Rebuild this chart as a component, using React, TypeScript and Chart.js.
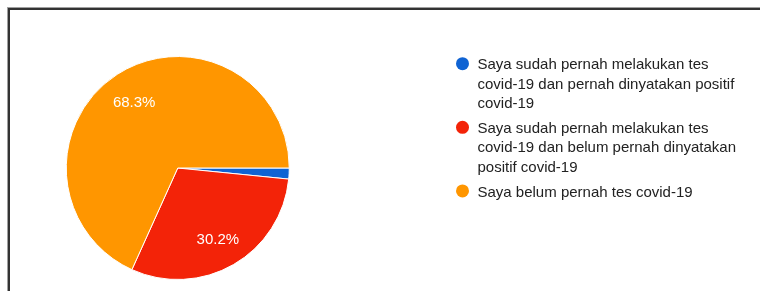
import React, { useEffect, useRef } from "react";
import { Chart, registerables } from "chart.js";

Chart.register(...registerables);

const categories = [
  "Saya sudah pernah melakukan tes covid-19 dan pernah dinyatakan positif covid-19",
  "Saya sudah pernah melakukan tes covid-19 dan belum pernah dinyatakan positif covid-19",
  "Saya belum pernah tes covid-19",
];
const counts = [1, 19, 43];
const sliceColors = ["#0f63d3", "#f32308", "#ff9600"];

const FONT = "15px 'Liberation Sans', Arial, sans-serif";

const framePlugin = {
  id: "frame",
  beforeDraw(chart: any) {
    const ctx = chart.ctx;
    ctx.save();
    ctx.fillStyle = "#a0a0a0";
    ctx.fillRect(7, 7, chart.width - 7, 1);
    ctx.fillRect(7, 7, 1, chart.height - 7);
    ctx.fillStyle = "#333333";
    ctx.fillRect(8, 8, chart.width - 8, 2);
    ctx.fillRect(8, 8, 2, chart.height - 8);
    ctx.restore();
  },
};

const sliceLabelPlugin = {
  id: "sliceLabels",
  afterDatasetsDraw(chart: any) {
    const ctx = chart.ctx;
    const meta = chart.getDatasetMeta(0);
    const data = chart.data.datasets[0].data as number[];
    const total = data.reduce((a, b) => a + b, 0);
    ctx.save();
    ctx.font = FONT;
    ctx.fillStyle = "#ffffff";
    ctx.textAlign = "center";
    ctx.textBaseline = "middle";
    meta.data.forEach((arc: any, i: number) => {
      const pct = (data[i] / total) * 100;
      if (pct < 5) return;
      const mid = (arc.startAngle + arc.endAngle) / 2;
      const r = arc.outerRadius * 0.72;
      const x = arc.x + Math.cos(mid) * r;
      const y = arc.y + Math.sin(mid) * r + 2;
      ctx.fillText(pct.toFixed(1) + "%", x, y);
    });
    ctx.restore();
  },
};

function wrap(ctx: CanvasRenderingContext2D, text: string, maxW: number) {
  const words = text.split(" ");
  const lines: string[] = [];
  let cur = "";
  for (const w of words) {
    const t = cur ? cur + " " + w : w;
    if (ctx.measureText(t).width > maxW && cur) {
      lines.push(cur);
      cur = w;
    } else cur = t;
  }
  if (cur) lines.push(cur);
  return lines;
}

const legendPlugin = {
  id: "sideLegend",
  afterDraw(chart: any) {
    const ctx = chart.ctx;
    const labels = chart.data.labels as string[];
    const colors = chart.data.datasets[0].backgroundColor as string[];
    ctx.save();
    ctx.font = FONT;
    ctx.textAlign = "left";
    ctx.textBaseline = "alphabetic";
    let y = 69.3;
    const lineH = 19.3;
    labels.forEach((lab, i) => {
      ctx.fillStyle = colors[i];
      ctx.beginPath();
      ctx.arc(462.5, y - 5.6, 6.5, 0, Math.PI * 2);
      ctx.fill();
      ctx.fillStyle = "#222222";
      const lines = wrap(ctx, lab, 272);
      lines.forEach((ln, j) => {
        ctx.fillText(ln, 477.5, y + j * lineH);
      });
      y += (lines.length - 1) * lineH + 25;
    });
    ctx.restore();
  },
};

export default function App() {
  const ref = useRef<HTMLCanvasElement>(null);
  useEffect(() => {
    if (!ref.current) return;
    const chart = new Chart(ref.current, {
      type: "pie",
      data: {
        labels: categories,
        datasets: [
          {
            data: counts,
            backgroundColor: sliceColors,
            borderColor: "#ffffff",
            borderWidth: 1,
          },
        ],
      },
      options: {
        animation: false,
        responsive: false,
        rotation: 90,
        layout: { padding: { left: 65.5, top: 56, right: 470, bottom: 11 } },
        plugins: {
          legend: { display: false },
          tooltip: { enabled: false },
        },
      },
      plugins: [framePlugin, sliceLabelPlugin, legendPlugin],
    });
    return () => chart.destroy();
  }, []);
  return (
    <div style={{ position: "absolute", left: 0, top: 0, width: 760, height: 291, background: "#fff" }}>
      <canvas ref={ref} width={760} height={291} style={{ display: "block" }} />
    </div>
  );
}
